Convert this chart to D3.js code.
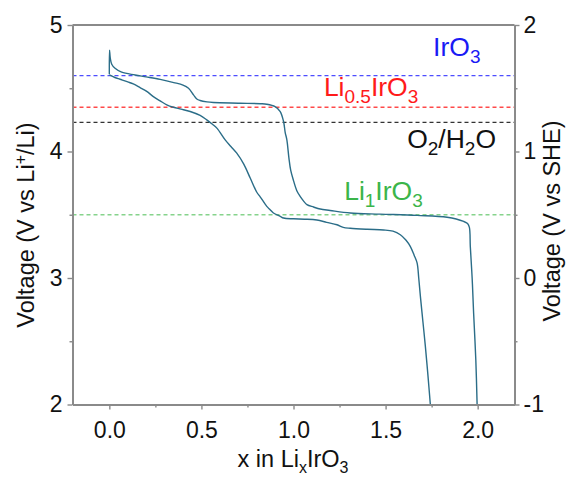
<!DOCTYPE html>
<html><head><meta charset="utf-8">
<script src="https://cdn.jsdelivr.net/npm/d3@7"></script>
<style>html,body{margin:0;padding:0;background:#fff;}svg{display:block;font-family:"Liberation Sans",Arial,sans-serif;}</style>
</head><body>
<script>
// ---- data ----
const upperX = [0.000,0.001,0.005,0.013,0.031,0.067,0.14,0.20,0.276,0.35,0.40,0.43,0.457,0.475,0.493,0.53,0.565,0.71,0.82,0.855,0.90,0.928,0.946,0.955,0.964,0.975,0.985,1.0,1.018,1.036,1.054,1.073,1.109,1.145,1.199,1.308,1.471,1.671,1.834,1.924,1.945,1.955,1.96,1.97,1.978,1.99,1.997];
const upperV = [4.61,4.80,4.74,4.69,4.658,4.627,4.605,4.59,4.57,4.545,4.525,4.50,4.448,4.415,4.403,4.392,4.387,4.382,4.378,4.374,4.355,4.316,4.237,4.15,4.092,3.95,3.85,3.77,3.69,3.645,3.61,3.58,3.561,3.545,3.534,3.514,3.505,3.495,3.48,3.447,3.43,3.40,3.25,3.0,2.724,2.35,2.0];
const lowerX = [0.000,0.03,0.058,0.10,0.13,0.167,0.203,0.239,0.276,0.312,0.348,0.39,0.439,0.493,0.529,0.56,0.584,0.629,0.66,0.692,0.73,0.765,0.80,0.82,0.855,0.873,0.891,0.928,0.946,1.0,1.06,1.127,1.18,1.236,1.27,1.308,1.40,1.489,1.54,1.58,1.61,1.634,1.655,1.671,1.68,1.689,1.703,1.716,1.73,1.743];
const lowerV = [4.605,4.585,4.571,4.55,4.534,4.505,4.475,4.434,4.40,4.369,4.35,4.335,4.316,4.285,4.25,4.215,4.185,4.092,4.04,3.987,3.90,3.79,3.68,3.64,3.566,3.54,3.514,3.487,3.474,3.468,3.465,3.458,3.44,3.421,3.40,3.393,3.385,3.38,3.37,3.342,3.30,3.25,3.18,3.119,3.0,2.855,2.65,2.46,2.23,2.0];
const refNames = ["IrO3","Li0.5IrO3","O2/H2O","Li1IrO3"];
const refVoltages = [4.60,4.35,4.23,3.50];
const refLabelParts = [
  [["IrO",0],["3",1]],
  [["Li",0],["0.5",1],["IrO",0],["3",1]],
  [["O",0],["2",1],["/H",0],["2",1],["O",0]],
  [["Li",0],["1",1],["IrO",0],["3",1]]
];
const refLabelX = [1.758, 1.165, 1.617, 1.275];   // in x units
const refLabelV = [4.755, 4.44, 4.025, 3.617];   // baseline in V units
const xTicks = [0,0.5,1.0,1.5,2.0];
const xMinor = [0.25,0.75,1.25,1.75];
const yTicks = [2,3,4,5];
const yMinor = [2.5,3.5,4.5];
const yRTicks = [-1,0,1,2];
const yRMinor = [-0.5,0.5,1.5];

// ---- styles ----
const axisColor = "#8a8a8a";
const curveColor = "#2b6d88";
const refColors = ["#4d4dff","#ff4a4a","#333333","#86d38c"];
const refTextColors = ["#1a1af5","#ff1a1a","#111111","#3bb54a"];

const W = 568, H = 485;
const x = d3.scaleLinear().domain([-0.2,2.2]).range([72.5,514.5]);
const y = d3.scaleLinear().domain([2,5]).range([404.5,25]);
const yR = d3.scaleLinear().domain([-1,2]).range([404.5,25]);

const svg = d3.select("body").append("svg").attr("width",W).attr("height",H);

// reference dashed lines
refVoltages.forEach((v,i)=>{
  svg.append("line").attr("x1",x.range()[0]).attr("x2",x.range()[1])
    .attr("y1",y(v)).attr("y2",y(v))
    .attr("stroke",refColors[i]).attr("stroke-width",1.3)
    .attr("stroke-dasharray","4,3");
});

// curves
const line = d3.line().x(d=>x(d[0])).y(d=>y(d[1])).curve(d3.curveCatmullRom.alpha(0.5));
[[upperX,upperV],[lowerX,lowerV]].forEach(([xs,vs])=>{
  svg.append("path").datum(xs.map((d,i)=>[d,vs[i]]))
    .attr("d",line).attr("fill","none").attr("stroke",curveColor)
    .attr("stroke-width",1.4).attr("stroke-linejoin","round");
});

// labels
refLabelParts.forEach((parts,i)=>{
  const t = svg.append("text").attr("x",x(refLabelX[i])).attr("y",y(refLabelV[i]))
    .attr("font-size",26.5).attr("fill",refTextColors[i]);
  let shift = 0;
  parts.forEach(([s,sub])=>{
    const target = sub ? 7 : 0;
    t.append("tspan").attr("dy",target-shift).attr("font-size",sub?19:26.5).text(s);
    shift = target;
  });
});

// axes
function styleAxis(g){
  g.selectAll(".domain").attr("stroke",axisColor).attr("stroke-width",1.8);
  g.selectAll(".tick line").attr("stroke",axisColor).attr("stroke-width",1.4);
  g.selectAll(".tick text").attr("fill","#111").attr("font-size",23)
    .attr("font-family","Liberation Sans, Arial, sans-serif");
}
const fmt = d3.format(".1f");
svg.append("g").attr("transform",`translate(0,${y.range()[0]})`)
  .call(d3.axisBottom(x).tickValues(xMinor).tickSize(3).tickFormat("").tickSizeOuter(0)).call(styleAxis);
svg.append("g").attr("transform",`translate(0,${y.range()[0]})`)
  .call(d3.axisBottom(x).tickValues(xTicks).tickSize(5).tickPadding(12).tickFormat(fmt).tickSizeOuter(0)).call(styleAxis);
svg.append("g").attr("transform",`translate(${x.range()[0]},0)`)
  .call(d3.axisLeft(y).tickValues(yMinor).tickSize(3).tickFormat("").tickSizeOuter(0)).call(styleAxis);
svg.append("g").attr("transform",`translate(${x.range()[0]},0)`)
  .call(d3.axisLeft(y).tickValues(yTicks).tickSize(5).tickPadding(5).tickFormat(d3.format("d")).tickSizeOuter(0)).call(styleAxis);
svg.append("g").attr("transform",`translate(${x.range()[1]},0)`)
  .call(d3.axisRight(yR).tickValues(yRMinor).tickSize(3).tickFormat("").tickSizeOuter(0)).call(styleAxis);
svg.append("g").attr("transform",`translate(${x.range()[1]},0)`)
  .call(d3.axisRight(yR).tickValues(yRTicks).tickSize(5).tickPadding(4).tickFormat(d=>d<0?"-"+Math.abs(d):d).tickSizeOuter(0)).call(styleAxis);
svg.append("line").attr("x1",x.range()[0]).attr("x2",x.range()[1]).attr("y1",y.range()[1]).attr("y2",y.range()[1])
  .attr("stroke",axisColor).attr("stroke-width",1.8);

// axis titles
function richText(sel, parts, size){
  let shift=0;
  parts.forEach(([s,mode])=>{
    const target = mode===1 ? 6 : mode===2 ? -8 : 0;
    sel.append("tspan").attr("dy",target-shift).attr("font-size",mode?16:size).text(s);
    shift=target;
  });
}
const xt = svg.append("text").attr("x",293).attr("y",467).attr("text-anchor","middle").attr("font-size",23.5).attr("fill","#111");
richText(xt,[["x in Li",0],["x",1],["IrO",0],["3",1]],23.5);
const ylt = svg.append("text").attr("transform","translate(34,225) rotate(-90)").attr("text-anchor","middle").attr("font-size",23.5).attr("fill","#111");
richText(ylt,[["Voltage (V vs Li",0],["+",2],["/Li)",0]],23.5);
svg.append("text").attr("transform","translate(560,221) rotate(-90)").attr("text-anchor","middle")
  .attr("font-size",23.5).attr("fill","#111").text("Voltage (V vs SHE)");
</script>
</body></html>
